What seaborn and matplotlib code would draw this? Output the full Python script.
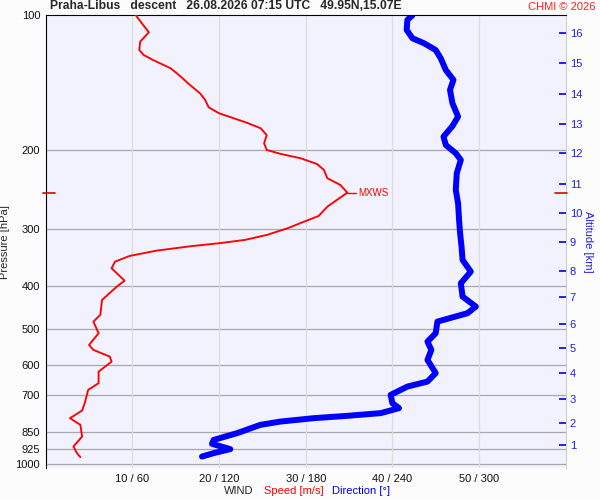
import numpy as np
import matplotlib.pyplot as plt
import matplotlib.ticker as mticker
import seaborn as sns

# wind speed profile (m/s) vs pressure (hPa)
speed_p = [100, 104.2, 109.1, 114.5, 119.5, 122.6, 125.8, 131.2, 136.5, 142.2,
           149.2, 154.4, 160.3, 165.3, 169.6, 173.5, 178.5, 184.8, 192.8, 199.5,
           203.6, 208.2, 214.4, 221.1, 230.7, 238.8, 248.4, 257.8, 266.9, 279.9,
           288.3, 298.2, 308.6, 316.5, 322.0, 327.0, 334.4, 343.6, 353.8, 366.0,
           378.8, 390.1, 402.3, 430.6, 465.0, 481.3, 510.9, 542.5, 556.5, 576.1,
           591.0, 622.1, 660.1, 683.2, 731.3, 759.6, 789.9, 817.5, 868.0, 913.6,
           945.1, 964.7]
speed = [10.4, 11.1, 11.9, 10.9, 10.8, 11.3, 12.4, 14.4, 15.5, 16.5,
         17.8, 18.4, 18.8, 20.0, 21.7, 23.2, 24.8, 25.5, 25.2, 25.5,
         27.1, 29.4, 31.3, 32.1, 32.5, 34.0, 34.8, 33.6, 32.5, 31.5,
         29.8, 27.9, 25.5, 23.0, 20.0, 16.7, 12.8, 9.7, 8.0, 7.6,
         8.4, 9.1, 8.2, 6.5, 6.3, 5.5, 6.1, 5.0, 5.5, 7.4,
         7.6, 6.1, 6.1, 4.9, 4.5, 4.2, 2.8, 4.0, 4.2, 3.2,
         3.6, 4.0]

# wind direction profile (deg) vs pressure (hPa)
dir_p = [100, 102.4, 107.8, 112.5, 115.4, 119.5, 124.7, 132.4, 139.3, 146.6,
         157.0, 168.2, 176.5, 186.4, 194.5, 202.9, 210.0, 224.8, 244.9, 262.3,
         285.7, 305.9, 327.7, 350.7, 372.4, 395.4, 423.3, 445.7, 461.0, 481.3,
         510.9, 533.3, 556.5, 585.9, 627.0, 654.7, 671.8, 701.0, 731.3, 750.4,
         769.8, 780.5, 789.9, 803.8, 817.5, 853.1, 883.0, 901.1, 925.9, 945.1,
         961.8]
direction = [253.9, 250.4, 249.9, 253.9, 261.9, 270.0, 273.5, 277.0, 282.3, 279.9,
             281.6, 285.5, 281.6, 275.4, 277.0, 283.9, 287.4, 284.6, 283.9, 285.5,
             286.2, 286.9, 287.9, 288.6, 294.3, 287.4, 288.6, 297.8, 292.0, 271.2,
             270.0, 264.3, 267.0, 264.3, 270.0, 264.3, 250.4, 238.8, 240.0, 244.6,
             231.9, 208.8, 185.6, 162.5, 148.6, 132.5, 116.3, 115.1, 127.8, 116.3,
             108.2]

p_levels = [100, 200, 300, 400, 500, 600, 700, 850, 925, 1000]
x_ticks = [10, 20, 30, 40, 50]
x_labels = ['10 / 60', '20 / 120', '30 / 180', '40 / 240', '50 / 300']
alt_km = list(range(1, 17))
alt_p = [907.1, 807.7, 714.3, 627.0, 551.4, 487.7, 424.6, 370.6,
         319.8, 276.1, 237.5, 202.9, 174.7, 149.7, 127.9, 109.7]

mxws_speed = 34.8
mxws_p = 248.4

sns.set_style('white')
plt.rcParams['font.family'] = ['Liberation Sans', 'DejaVu Sans']

fig = plt.figure(figsize=(6, 5), dpi=100, facecolor='#fcfcfc')
ax = fig.add_axes([0.0762, 0.064, 0.8666, 0.9054])
ax.set_facecolor('#f2f2ff')
ax.set_yscale('log')
ax.set_ylim(1020, 100)
ax.set_xlim(0, 60)

for p in p_levels[1:]:
    ax.axhline(p, color='#a8a8a8', lw=0.9, zorder=1)
for x in x_ticks:
    ax.axvline(x, color='#dcdcdc', lw=0.9, zorder=1)

sns.lineplot(x=speed, y=speed_p, sort=False, estimator=None, orient='y',
             color='#ff0000', lw=1.35, ax=ax, zorder=3)
sns.lineplot(x=np.array(direction) / 6, y=dir_p, sort=False, estimator=None,
             orient='y', color='#0000ff', lw=4.3, ax=ax, zorder=2,
             solid_capstyle='round')

# max wind marker
ax.plot([mxws_speed, mxws_speed + 1.0], [mxws_p, mxws_p], color='red', lw=1, zorder=4)
ax.text(mxws_speed + 1.3, mxws_p, 'MXWS', color='red', fontsize=7, va='center')
ax.plot([-0.3, 1.1], [mxws_p, mxws_p], color='#e00000', lw=1.2, clip_on=False, zorder=5)
ax.plot([58.8, 60.2], [mxws_p, mxws_p], color='#e00000', lw=1.2, clip_on=False, zorder=5)

ax.yaxis.set_major_locator(mticker.FixedLocator(p_levels))
ax.yaxis.set_minor_locator(mticker.NullLocator())
ax.set_yticklabels([str(p) for p in p_levels])
ax.set_xticks(x_ticks)
ax.set_xticklabels(x_labels)
ax.tick_params(axis='both', length=0, labelsize=8, pad=4, colors='#111111')
ax.set_ylabel('Pressure [hPa]', fontsize=8, labelpad=4)
ax.set_xlabel('')

ax.spines['bottom'].set_visible(False)
ax.spines['left'].set_color('black')
ax.spines['top'].set_color('black')
ax.spines['right'].set_color('#d0d0d0')

ax2 = ax.twinx()
ax2.set_yscale('log')
ax2.set_ylim(1020, 100)
ax2.yaxis.set_major_locator(mticker.FixedLocator(alt_p))
ax2.yaxis.set_minor_locator(mticker.NullLocator())
ax2.set_yticklabels([str(a) for a in alt_km])
ax2.tick_params(axis='y', direction='in', length=5, width=1.2, color='#0000e0',
                labelcolor='#2020e0', labelsize=8, pad=3)
ax2.set_ylabel('Altitude [km]', color='#2020e0', fontsize=8, rotation=-90, labelpad=8)
for s in ax2.spines.values():
    s.set_visible(False)

fig.text(0.084, 0.976, 'Praha-Libus   descent   26.08.2026 07:15 UTC   49.95N,15.07E',
         fontsize=8.7, fontweight='bold', ha='left', va='bottom')
fig.text(0.993, 0.976, 'CHMI © 2026', fontsize=8, color='#ff2020', ha='right', va='bottom')

fig.text(0.374, 0.018, 'WIND', fontsize=8, ha='left', va='center')
fig.text(0.440, 0.018, 'Speed [m/s]', fontsize=8, color='#ff0000', ha='left', va='center')
fig.text(0.553, 0.018, 'Direction [°]', fontsize=8, color='#0000ff', ha='left', va='center')

fig.savefig('out.png', dpi=100, facecolor=fig.get_facecolor())
